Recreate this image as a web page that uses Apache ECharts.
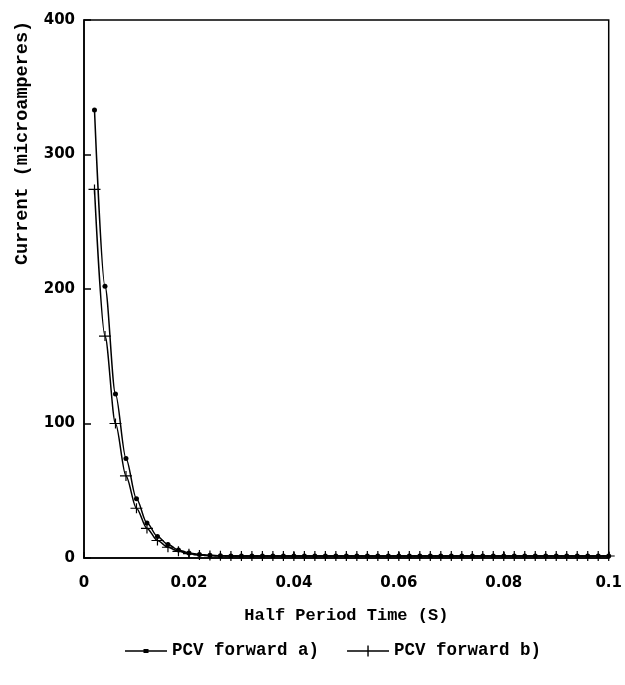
<!DOCTYPE html>
<html lang="en">
<head>
    <meta charset="UTF-8">
    <title>PCV forward</title>
    <script src="https://cdn.jsdelivr.net/npm/echarts@6/dist/echarts.min.js" type="text/javascript"></script>
    <style>
        html, body { margin: 0; padding: 0; background: #fff; }
        #chart { width: 625px; height: 685px; }
    </style>
</head>
<body>
<div id="chart"></div>
<script>
    // half period time (s)
    var times = [0.002, 0.004, 0.006, 0.008, 0.010, 0.012, 0.014, 0.016, 0.018, 0.020,
        0.022, 0.024, 0.026, 0.028, 0.030, 0.032, 0.034, 0.036, 0.038, 0.040,
        0.042, 0.044, 0.046, 0.048, 0.050, 0.052, 0.054, 0.056, 0.058, 0.060,
        0.062, 0.064, 0.066, 0.068, 0.070, 0.072, 0.074, 0.076, 0.078, 0.080,
        0.082, 0.084, 0.086, 0.088, 0.090, 0.092, 0.094, 0.096, 0.098, 0.100];
    // current (microamperes)
    var forwardA = [333, 202, 122, 74, 44, 26, 16, 10, 6, 3.8,
        2.6, 2, 1.7, 1.5, 1.5, 1.5, 1.5, 1.5, 1.5, 1.5,
        1.5, 1.5, 1.5, 1.5, 1.5, 1.5, 1.5, 1.5, 1.5, 1.5,
        1.5, 1.5, 1.5, 1.5, 1.5, 1.5, 1.5, 1.5, 1.5, 1.5,
        1.5, 1.5, 1.5, 1.5, 1.5, 1.5, 1.5, 1.5, 1.5, 1.5];
    var forwardB = [274, 165, 100, 61, 37, 22, 13, 8, 5, 3.2,
        2.3, 1.8, 1.6, 1.5, 1.5, 1.5, 1.5, 1.5, 1.5, 1.5,
        1.5, 1.5, 1.5, 1.5, 1.5, 1.5, 1.5, 1.5, 1.5, 1.5,
        1.5, 1.5, 1.5, 1.5, 1.5, 1.5, 1.5, 1.5, 1.5, 1.5,
        1.5, 1.5, 1.5, 1.5, 1.5, 1.5, 1.5, 1.5, 1.5, 1.5];
    var seriesNames = ['PCV forward a)', 'PCV forward b)'];

    function pairs(ys) {
        var out = [];
        for (var i = 0; i < times.length; i++) {
            out.push([times[i], ys[i]]);
        }
        return out;
    }

    var plus = 'path://M0,4.4H12V5.6H0Z M5.4,0H6.6V10H5.4Z';
    // legend icons: line with the marker on it (42 x 12 box)
    var iconA = 'path://M0,0L0,12Z M0,5.3H42V6.7H0Z M18.5,4H23.5V8H18.5Z';
    var iconB = 'path://M0,0L0,12Z M0,5.3H42V6.7H0Z M20.3,0.5H21.7V11.5H20.3Z';
    var labelFont = 'DejaVu Sans';
    var textFont = 'Liberation Mono';

    var mychart = echarts.init(document.getElementById('chart'));
    var option = {
        backgroundColor: '#fff',
        animation: false,
        grid: {
            left: 84,
            right: 12,
            top: 20,
            bottom: 127,
            show: true,
            borderColor: '#000',
            borderWidth: 1.5
        },
        legend: {
            bottom: 20,
            left: 120,
            itemWidth: 42,
            itemHeight: 12,
            itemGap: 28,
            textStyle: {
                fontFamily: textFont,
                fontWeight: 'bold',
                fontSize: 17.5,
                color: '#000'
            },
            data: [
                { name: seriesNames[0], icon: iconA },
                { name: seriesNames[1], icon: iconB }
            ]
        },
        xAxis: {
            type: 'value',
            min: 0,
            max: 0.1,
            interval: 0.02,
            name: 'Half Period Time (S)',
            nameLocation: 'middle',
            nameGap: 49,
            nameTextStyle: {
                fontFamily: textFont,
                fontWeight: 'bold',
                fontSize: 17,
                color: '#000'
            },
            axisLine: { lineStyle: { color: '#000', width: 1.5 } },
            axisTick: { inside: true, length: 6, lineStyle: { color: '#000', width: 1.5 } },
            axisLabel: {
                margin: 18,
                fontFamily: labelFont,
                fontWeight: 'bold',
                fontSize: 15,
                color: '#000'
            },
            splitLine: { show: false }
        },
        yAxis: {
            type: 'value',
            min: 0,
            max: 400,
            interval: 100,
            axisLine: { show: true, lineStyle: { color: '#000', width: 1.5 } },
            axisTick: { show: true, inside: true, length: 7, lineStyle: { color: '#000', width: 1.5 } },
            axisLabel: {
                margin: 9,
                fontFamily: labelFont,
                fontWeight: 'bold',
                fontSize: 15,
                color: '#000'
            },
            splitLine: { show: false }
        },
        graphic: [{
            type: 'text',
            x: 22,
            y: 143,
            rotation: Math.PI / 2,
            style: {
                text: 'Current (microamperes)',
                fontFamily: textFont,
                fontWeight: 'bold',
                fontSize: 18.5,
                fill: '#000',
                align: 'center',
                verticalAlign: 'middle'
            }
        }],
        series: [
            {
                name: seriesNames[0],
                type: 'line',
                data: pairs(forwardA),
                smooth: 0.3,
                smoothMonotone: 'x',
                symbol: 'circle',
                symbolSize: 5,
                showAllSymbol: true,
                lineStyle: { color: '#000', width: 1.5 },
                itemStyle: { color: '#000' }
            },
            {
                name: seriesNames[1],
                type: 'line',
                data: pairs(forwardB),
                smooth: 0.3,
                smoothMonotone: 'x',
                symbol: plus,
                symbolSize: [12, 10],
                showAllSymbol: true,
                lineStyle: { color: '#000', width: 1.5 },
                itemStyle: { color: '#000' }
            }
        ]
    };
    mychart.setOption(option);
</script>
</body>
</html>
